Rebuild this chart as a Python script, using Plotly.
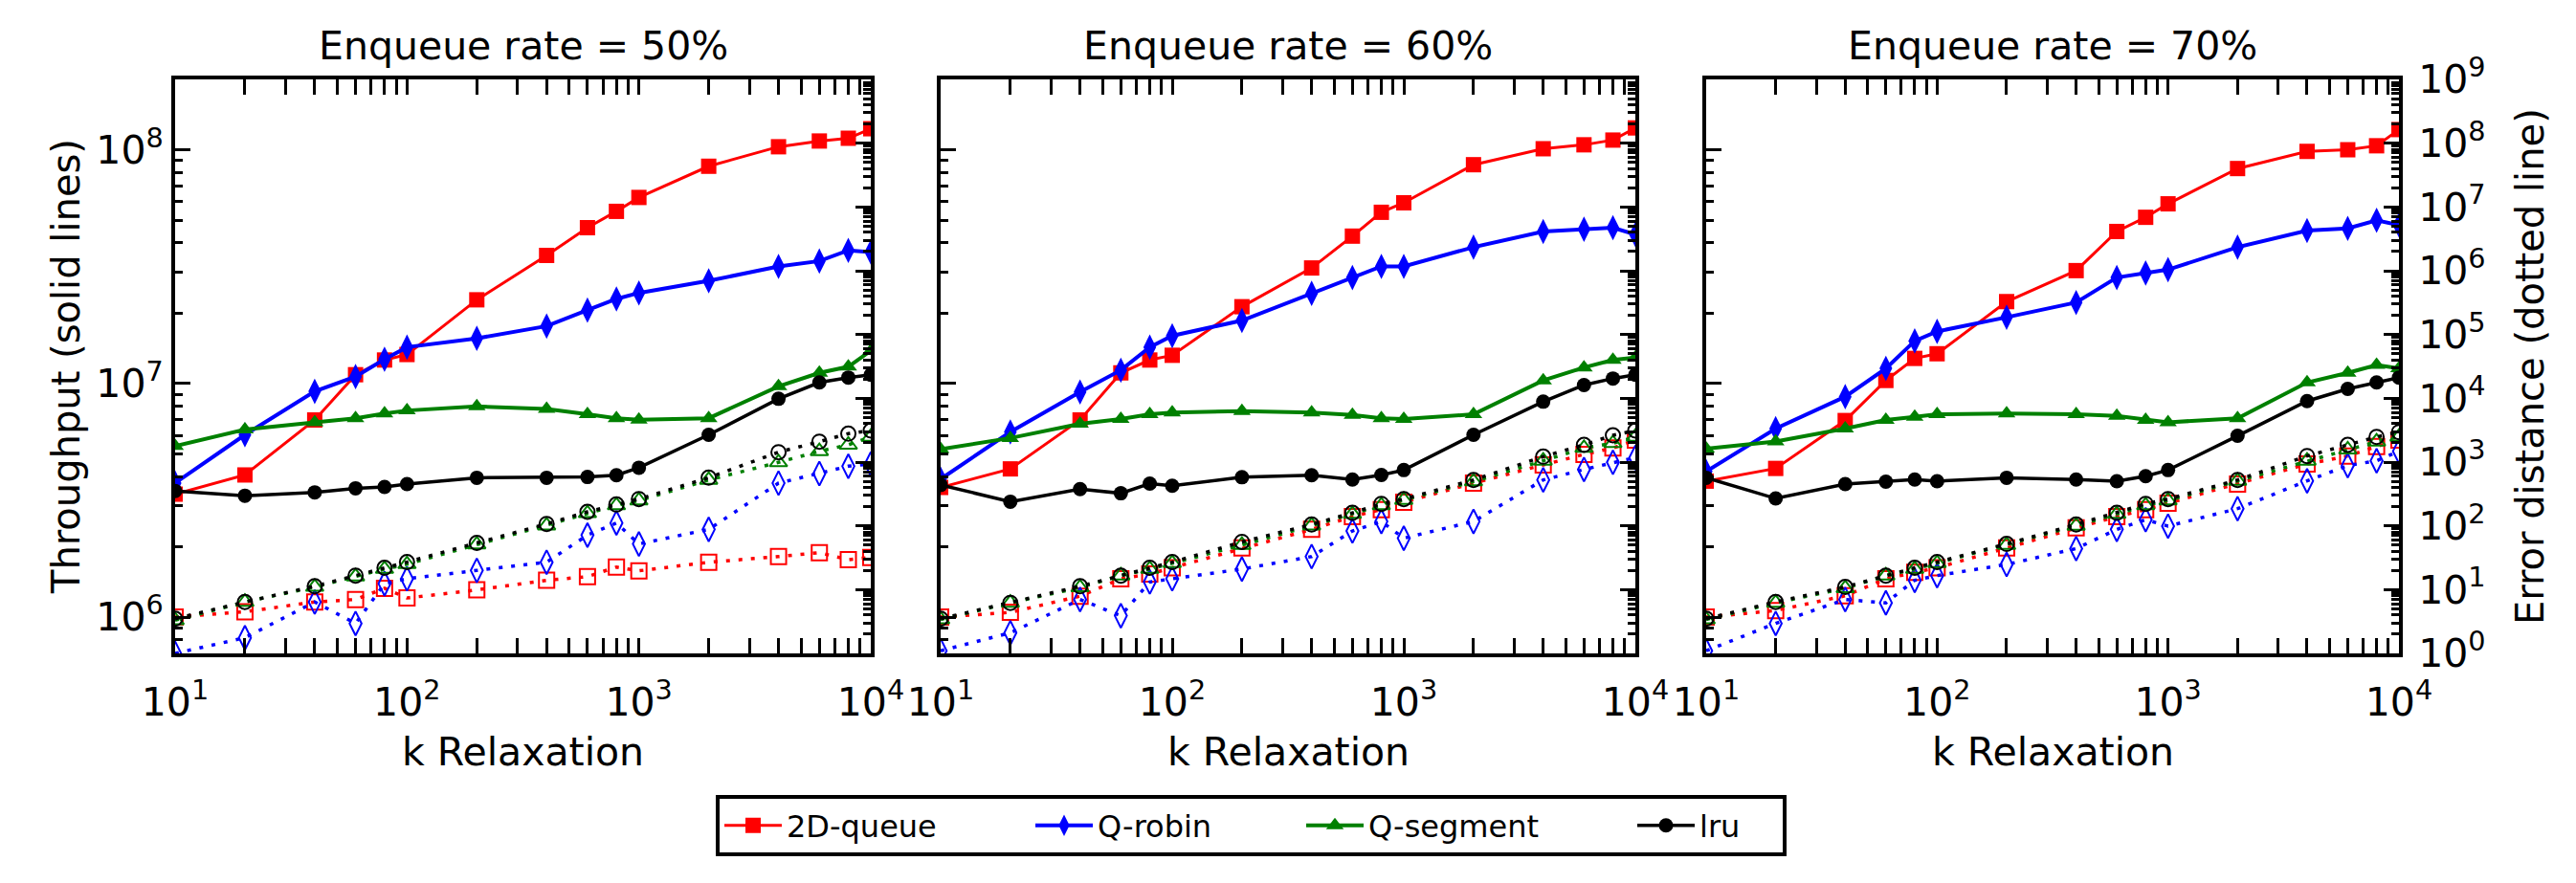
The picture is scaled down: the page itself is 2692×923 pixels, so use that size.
import plotly.graph_objects as go

# ---------------- data ----------------
K = [10, 20, 40, 60, 80, 100, 200, 400, 600, 800, 1000, 2000, 4000, 6000, 8000, 10000]

panel_titles = ["Enqueue rate = 50%", "Enqueue rate = 60%", "Enqueue rate = 70%"]
series_names = ["2D-queue", "Q-robin", "Q-segment", "lru"]

# Throughput (solid lines, left axis)
tput_50_2dq = [3.36e6, 4.06e6, 6.98e6, 1.09e7, 1.26e7, 1.33e7, 2.28e7, 3.53e7, 4.64e7, 5.45e7, 6.25e7, 8.5e7, 1.03e8, 1.09e8, 1.12e8, 1.23e8]
tput_50_qrobin = [3.75e6, 6.03e6, 9.25e6, 1.07e7, 1.27e7, 1.43e7, 1.56e7, 1.76e7, 2.06e7, 2.30e7, 2.44e7, 2.75e7, 3.17e7, 3.34e7, 3.71e7, 3.65e7]
tput_50_qseg = [5.4e6, 6.35e6, 6.82e6, 7.1e6, 7.43e6, 7.66e6, 7.98e6, 7.78e6, 7.38e6, 7.1e6, 7.0e6, 7.1e6, 9.72e6, 1.11e7, 1.18e7, 1.38e7]
tput_50_lru = [3.47e6, 3.31e6, 3.42e6, 3.56e6, 3.61e6, 3.71e6, 3.95e6, 3.95e6, 3.98e6, 4.05e6, 4.36e6, 6.03e6, 8.6e6, 1.01e7, 1.06e7, 1.09e7]

tput_60_2dq = [3.59e6, 4.31e6, 6.98e6, 1.11e7, 1.26e7, 1.32e7, 2.13e7, 3.12e7, 4.27e7, 5.4e7, 5.93e7, 8.63e7, 1.01e8, 1.05e8, 1.10e8, 1.24e8]
tput_60_qrobin = [3.9e6, 6.2e6, 9.2e6, 1.14e7, 1.43e7, 1.60e7, 1.86e7, 2.43e7, 2.84e7, 3.17e7, 3.17e7, 3.83e7, 4.47e7, 4.57e7, 4.64e7, 4.34e7]
tput_60_qseg = [5.23e6, 5.84e6, 6.72e6, 7.04e6, 7.38e6, 7.5e6, 7.62e6, 7.5e6, 7.33e6, 7.1e6, 7.04e6, 7.38e6, 1.03e7, 1.17e7, 1.26e7, 1.29e7]
tput_60_lru = [3.68e6, 3.12e6, 3.53e6, 3.39e6, 3.73e6, 3.65e6, 3.97e6, 4.05e6, 3.88e6, 4.06e6, 4.26e6, 6.03e6, 8.36e6, 9.85e6, 1.05e7, 1.09e7]

tput_70_2dq = [3.82e6, 4.33e6, 6.94e6, 1.03e7, 1.28e7, 1.34e7, 2.24e7, 3.04e7, 4.47e7, 5.14e7, 5.87e7, 8.31e7, 9.84e7, 1.0e8, 1.04e8, 1.22e8]
tput_70_qrobin = [4.2e6, 6.41e6, 8.78e6, 1.16e7, 1.52e7, 1.67e7, 1.92e7, 2.22e7, 2.84e7, 2.97e7, 3.07e7, 3.83e7, 4.51e7, 4.61e7, 4.99e7, 4.76e7]
tput_70_qseg = [5.26e6, 5.65e6, 6.41e6, 6.98e6, 7.2e6, 7.38e6, 7.43e6, 7.38e6, 7.26e6, 6.98e6, 6.82e6, 7.1e6, 1.01e7, 1.11e7, 1.2e7, 1.16e7]
tput_70_lru = [3.95e6, 3.22e6, 3.71e6, 3.80e6, 3.88e6, 3.82e6, 3.95e6, 3.88e6, 3.82e6, 4.01e6, 4.26e6, 5.97e6, 8.41e6, 9.48e6, 1.01e7, 1.06e7]

# Error distance (dotted lines, right axis)
err_50_2dq = [3.7, 4.5, 6.4, 7.0, 10.5, 7.4, 9.9, 14, 16, 22.6, 19.7, 26.9, 33, 38, 29.5, 32]
err_50_qrobin = [1.0, 1.76, 6.4, 2.95, 12.4, 14.8, 20, 26.9, 71.6, 111, 52, 88, 468, 661, 861, 933]
err_50_qseg = [3.3, 6.4, 11, 16, 21, 25, 51, 101, 157, 209, 249, 525, 989, 1480, 1862, 2480]
err_50_lru = [3.5, 6.4, 11.3, 16.6, 22, 27, 54, 107, 166, 216, 263, 569, 1429, 2090, 2790, 3126]

err_60_2dq = [3.7, 4.4, 7.9, 14.8, 17.6, 22, 45, 88, 140, 180, 234, 468, 902, 1320, 1660, 2213]
err_60_qrobin = [1.1, 2.1, 7.0, 3.9, 13.2, 14.8, 21, 33, 83, 117, 64, 117, 525, 767, 989, 1175]
err_60_qseg = [3.4, 6.2, 10.8, 16.6, 21, 26, 50, 101, 153, 209, 254, 495, 1047, 1660, 1972, 2480]
err_60_lru = [3.5, 6.2, 11.3, 16.6, 22, 27, 56, 105, 160, 221, 263, 525, 1216, 1862, 2630, 3126]

err_70_2dq = [3.7, 4.7, 8.0, 14.8, 18.6, 22, 45, 93, 140, 180, 226, 452, 933, 1245, 1758, 2213]
err_70_qrobin = [1.1, 2.95, 7.0, 6.2, 14, 16.6, 24.8, 44, 88, 125, 99, 186, 507, 881, 1047, 1480]
err_70_qseg = [3.4, 6.2, 10.5, 16.6, 21, 26, 50, 100, 153, 209, 249, 507, 1047, 1567, 2090, 2480]
err_70_lru = [3.5, 6.4, 11, 16.6, 22, 27, 52, 105, 160, 221, 263, 525, 1245, 1862, 2480, 2950]

# tick labels
x_tickvals = [10, 100, 1000, 10000]
x_ticktext = ["10<sup>1</sup>", "10<sup>2</sup>", "10<sup>3</sup>", "10<sup>4</sup>"]
yl_tickvals = [1e6, 1e7, 1e8]
yl_ticktext = ["10<sup>6</sup>", "10<sup>7</sup>", "10<sup>8</sup>"]
yr_tickvals = [10 ** i for i in range(10)]
yr_ticktext = ["10<sup>%d</sup>" % i for i in range(10)]

x_label = "k Relaxation"
yl_label = "Throughput (solid lines)"
yr_label = "Error distance (dotted line)"

# ---------------- style ----------------
W, H = 2692, 923
FONT = "DejaVu Sans"
colors = ["#ff0000", "#0000ff", "#008000", "#000000"]
solid_symbols = ["square", "diamond-tall", "triangle-up", "circle"]
open_symbols = ["square-open", "diamond-tall-open", "triangle-up-open", "circle-open"]
solid_widths = [3, 4, 4, 3.5]
solid_sizes = [16, 19, 16, 15]
open_sizes = [16, 18, 16, 15]
legend_ids = ["legend", "legend2", "legend3", "legend4"]
legend_px = [752, 1077, 1360, 1706]   # left edge of each legend entry (px)

tput = [
    [tput_50_2dq, tput_50_qrobin, tput_50_qseg, tput_50_lru],
    [tput_60_2dq, tput_60_qrobin, tput_60_qseg, tput_60_lru],
    [tput_70_2dq, tput_70_qrobin, tput_70_qseg, tput_70_lru],
]
errs = [
    [err_50_2dq, err_50_qrobin, err_50_qseg, err_50_lru],
    [err_60_2dq, err_60_qrobin, err_60_qseg, err_60_lru],
    [err_70_2dq, err_70_qrobin, err_70_qseg, err_70_lru],
]

px_left = [183, 983, 1783]
px_right = [910, 1709, 2507]
px_top, px_bot = 83, 683
ydom = [1 - px_bot / H, 1 - px_top / H]

def minor_vals(lo, hi):
    return [m * 10 ** e for e in range(lo, hi) for m in range(2, 10)]

fig = go.Figure()

for p in range(3):
    xa = "x" if p == 0 else "x%d" % (p + 1)
    ya_l = "y" if p == 0 else "y%d" % (2 * p + 1)
    ya_r = "y%d" % (2 * p + 2)
    for s in range(4):
        fig.add_trace(go.Scatter(
            x=K, y=tput[p][s], xaxis=xa, yaxis=ya_l, mode="lines+markers",
            name=series_names[s], legend=legend_ids[s], showlegend=(p == 0),
            line=dict(color=colors[s], width=solid_widths[s]),
            marker=dict(symbol=solid_symbols[s], size=solid_sizes[s], color=colors[s]),
        ))
    for s in range(4):
        fig.add_trace(go.Scatter(
            x=K, y=errs[p][s], xaxis=xa, yaxis=ya_r, mode="lines+markers",
            name=series_names[s], legend=legend_ids[s], showlegend=False,
            line=dict(color=colors[s], width=3.5, dash="4px,9px"),
            marker=dict(symbol=open_symbols[s], size=open_sizes[s], color=colors[s],
                        line=dict(color=colors[s], width=2)),
        ))

tickfont = dict(family=FONT, size=41, color="black")
layout = dict(
    width=W, height=H, margin=dict(l=0, r=0, t=0, b=0, autoexpand=False),
    paper_bgcolor="white", plot_bgcolor="white",
    font=dict(family=FONT, color="black"),
    showlegend=True,
)
for s in range(4):
    layout[legend_ids[s]] = dict(
        orientation="h", x=legend_px[s] / W, y=1 - 863 / H, xanchor="left", yanchor="middle",
        borderwidth=0, bgcolor="rgba(0,0,0,0)", font=dict(family=FONT, size=32),
        itemwidth=60,
    )

annotations = []
for p in range(3):
    xk = "xaxis" if p == 0 else "xaxis%d" % (p + 1)
    ylk = "yaxis" if p == 0 else "yaxis%d" % (2 * p + 1)
    yrk = "yaxis%d" % (2 * p + 2)
    xa = "x" if p == 0 else "x%d" % (p + 1)
    ya_l = "y" if p == 0 else "y%d" % (2 * p + 1)
    layout[xk] = dict(
        domain=[px_left[p] / W, px_right[p] / W], anchor=ya_l, type="log", range=[1, 4],
        tickmode="array", tickvals=x_tickvals, ticktext=x_ticktext, tickfont=tickfont,
        ticklabelstandoff=12,
        ticks="inside", ticklen=16, tickwidth=3, tickcolor="black",
        minor=dict(ticks="inside", ticklen=8, tickwidth=2.5, tickcolor="black",
                   tickmode="array", tickvals=minor_vals(1, 4), showgrid=False),
        showline=True, linewidth=4, linecolor="black", mirror="allticks",
        showgrid=False, zeroline=False,
    )
    layout[ylk] = dict(
        domain=ydom, anchor=xa, type="log", range=[5.845, 8.301],
        tickmode="array", tickvals=yl_tickvals, ticktext=yl_ticktext, tickfont=tickfont,
        showticklabels=(p == 0),
        ticks="inside", ticklen=16, tickwidth=3, tickcolor="black",
        minor=dict(ticks="inside", ticklen=8, tickwidth=2.5, tickcolor="black",
                   tickmode="array", tickvals=minor_vals(5, 9), showgrid=False),
        showline=True, linewidth=4, linecolor="black", mirror=False,
        showgrid=False, zeroline=False,
    )
    layout[yrk] = dict(
        overlaying=ya_l, anchor=xa, side="right", type="log", range=[0, 9],
        tickmode="array", tickvals=yr_tickvals, ticktext=yr_ticktext, tickfont=tickfont,
        showticklabels=(p == 2), ticklabelstandoff=8,
        ticks="inside", ticklen=16, tickwidth=3, tickcolor="black",
        minor=dict(ticks="inside", ticklen=8, tickwidth=2.5, tickcolor="black",
                   tickmode="array", tickvals=minor_vals(0, 9), showgrid=False),
        showline=True, linewidth=4, linecolor="black",
        showgrid=False, zeroline=False,
    )
    cx = (px_left[p] + px_right[p]) / 2 / W
    annotations.append(dict(text=panel_titles[p], x=cx, y=1 - 48 / H, xref="paper", yref="paper",
                            xanchor="center", yanchor="middle", showarrow=False,
                            font=dict(family=FONT, size=41, color="black")))
    annotations.append(dict(text=x_label, x=cx, y=1 - 786 / H, xref="paper", yref="paper",
                            xanchor="center", yanchor="middle", showarrow=False,
                            font=dict(family=FONT, size=41, color="black")))

annotations.append(dict(text=yl_label, x=69 / W, y=1 - 383 / H, xref="paper", yref="paper",
                        xanchor="center", yanchor="middle", showarrow=False, textangle=-90,
                        font=dict(family=FONT, size=40, color="black")))
annotations.append(dict(text=yr_label, x=2644 / W, y=1 - 383 / H, xref="paper", yref="paper",
                        xanchor="center", yanchor="middle", showarrow=False, textangle=-90,
                        font=dict(family=FONT, size=40, color="black")))
layout["annotations"] = annotations
layout["shapes"] = [dict(type="rect", xref="paper", yref="paper",
                         x0=750 / W, x1=1865 / W, y0=1 - 893 / H, y1=1 - 833 / H,
                         line=dict(color="black", width=4), fillcolor="rgba(0,0,0,0)")]

fig.update_layout(**layout)
fig.write_html("out.html")
